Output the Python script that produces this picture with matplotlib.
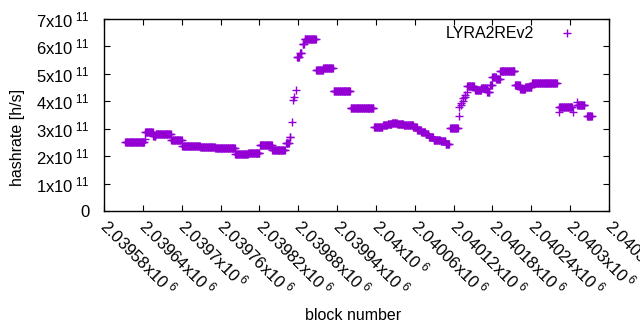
import numpy as np
import matplotlib
matplotlib.use("Agg")
import matplotlib.pyplot as plt

plt.rcParams['font.family'] = ['Liberation Sans', 'DejaVu Sans']
plt.rcParams['mathtext.default'] = 'regular'

# Run-length description of the per-block series: every block from first..last has hashrate rate (x1e11 h/s)
seg_first = [2039613, 2039643, 2039644, 2039656, 2039660, 2039684, 2039701, 2039729, 2039752, 2039783,
             2039803, 2039821, 2039840, 2039861, 2039867, 2039870, 2039872, 2039874, 2039876, 2039878,
             2039883, 2039887, 2039890, 2039908, 2039919, 2039935, 2039961, 2039997, 2040011, 2040018,
             2040025, 2040033, 2040043, 2040051, 2040058, 2040064, 2040070, 2040077, 2040082, 2040089,
             2040100, 2040108, 2040115, 2040128, 2040129, 2040131, 2040132, 2040134, 2040135, 2040137,
             2040138, 2040140, 2040141, 2040153, 2040163, 2040172, 2040176, 2040180, 2040186, 2040192,
             2040215, 2040223, 2040231, 2040241, 2040282, 2040283, 2040304, 2040310, 2040311, 2040326]
seg_last = [2039642, 2039643, 2039655, 2039659, 2039683, 2039700, 2039728, 2039751, 2039782, 2039802,
            2039820, 2039839, 2039859, 2039865, 2039868, 2039870, 2039872, 2039874, 2039876, 2039881,
            2039885, 2039889, 2039907, 2039918, 2039933, 2039960, 2039996, 2040010, 2040017, 2040024,
            2040032, 2040042, 2040050, 2040057, 2040063, 2040069, 2040076, 2040081, 2040088, 2040099,
            2040107, 2040113, 2040126, 2040128, 2040129, 2040131, 2040132, 2040134, 2040135, 2040137,
            2040138, 2040140, 2040151, 2040162, 2040171, 2040175, 2040179, 2040185, 2040191, 2040214,
            2040222, 2040230, 2040240, 2040279, 2040282, 2040303, 2040304, 2040310, 2040322, 2040333]
seg_rate = [2.50, 2.62, 2.88, 2.74, 2.81, 2.59, 2.36, 2.32, 2.28, 2.08,
            2.12, 2.40, 2.24, 2.47, 2.70, 3.23, 4.05, 4.16, 4.41, 5.60,
            5.75, 6.10, 6.28, 5.14, 5.21, 4.37, 3.74, 3.05, 3.12, 3.19,
            3.22, 3.17, 3.15, 3.12, 3.05, 2.97, 2.88, 2.80, 2.68, 2.58,
            2.55, 2.44, 3.01, 3.48, 3.79, 3.85, 3.94, 4.00, 4.12, 4.15,
            4.23, 4.35, 4.56, 4.40, 4.50, 4.35, 4.60, 4.90, 4.80, 5.10,
            4.58, 4.45, 4.52, 4.66, 3.62, 3.78, 3.62, 3.99, 3.86, 3.46]

x_ticks = [2039580, 2039640, 2039700, 2039760, 2039820, 2039880, 2039940,
           2040000, 2040060, 2040120, 2040180, 2040240, 2040300, 2040360]
x_ticklabels = ['2.03958', '2.03964', '2.0397', '2.03976', '2.03982', '2.03988', '2.03994',
                '2.04', '2.04006', '2.04012', '2.04018', '2.04024', '2.0403', '2.04036']
y_ticks = [0, 1, 2, 3, 4, 5, 6, 7]

blocks = []
rates = []
for f, l, r in zip(seg_first, seg_last, seg_rate):
    for b in range(f, l + 1):
        blocks.append(b)
        rates.append(r * 1e11)

fig = plt.figure(figsize=(6.4, 3.3), dpi=100)
ax = fig.add_axes([104/640, 1-211/330, (609-104)/640, (211-19)/330])

ax.plot(blocks, rates, linestyle='none', marker='+', markersize=5.5,
        markeredgewidth=1.0, color='#9400D3', label='LYRA2REv2')

ax.set_xlim(2039580, 2040360)
ax.set_ylim(0, 7e11)

ax.set_xticks(x_ticks)
ax.set_xticklabels([s + r'x10$^{\;6}$' for s in x_ticklabels], rotation=-45,
                   ha='left', va='center', rotation_mode='anchor', fontsize=12)
ax.set_yticks([v * 1e11 for v in y_ticks])
ax.set_yticklabels(['0'] + [f'{v}x10' + r'$^{\;11}$' for v in y_ticks[1:]], fontsize=12)

ax.tick_params(direction='in', length=4, width=0.8, top=True, right=True, color='black')
ax.tick_params(axis='y', pad=10)
ax.tick_params(axis='x', pad=8)
for s in ax.spines.values():
    s.set_linewidth(1.0)
    s.set_color('black')

fig.text(353/640, 1-315/330, 'block number', ha='center', va='center', fontsize=11.5)
fig.text(18/640, 1-137/330, 'hashrate [h/s]', ha='center', va='center', rotation=90, fontsize=11.5)

leg = ax.legend(loc='upper right', frameon=False, markerfirst=False, fontsize=11.5,
                bbox_to_anchor=(0.96, 1.012), handlelength=1.5, handletextpad=1.3,
                borderaxespad=0.2)

fig.savefig('out.png', dpi=100)
